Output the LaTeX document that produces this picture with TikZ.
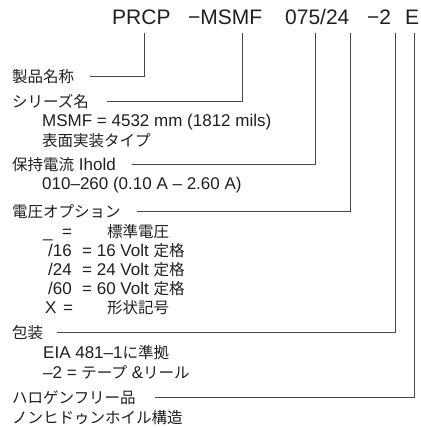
\documentclass[tikz,border=0pt]{standalone}
\usepackage{fontspec}
\setmainfont{Liberation Sans}
\newfontfamily\jpfont{Noto Sans CJK JP}
\newcommand\jtxt[1]{{\jpfont\fontsize{15.5}{18}\selectfont #1}}
\begin{document}
\begin{tikzpicture}[x=1pt,y=-1pt,
  toptext/.style={anchor=base west,inner sep=0pt,text=black!88,font=\fontsize{21}{24}\selectfont},
  lbl/.style={anchor=base west,inner sep=0pt,text=black!88,font=\fontsize{17}{20}\selectfont},
  conn/.style={draw=black!72,line width=1pt}]
\path[use as bounding box] (0,0) rectangle (420,428);
% top code
\node[toptext] (tp1) at (112,25) {PRCP};
\node[toptext] (tp2) at (188,25) {−MSMF};
\node[toptext] (tp3) at (285,25) {075/24};
\node[toptext] (tp4) at (367,25) {−2};
\node[toptext] (tp5) at (405,25) {E};
% headers
\node[lbl] (h1) at (12,82) {\jtxt{製品名称}};
\node[lbl] (h2) at (12,107) {\jtxt{シリーズ名}};
\node[lbl] (h2a) at (42,126) {MSMF = 4532 mm (1812 mils)};
\node[lbl] (h2b) at (42,146) {\jtxt{表面実装タイプ}};
\node[lbl] (h3) at (12,170) {\jtxt{保持電流} Ihold};
\node[lbl] (h3a) at (42,189) {010–260 (0.10 A – 2.60 A)};
\node[lbl] (h4) at (12,217) {\jtxt{電圧オプション}};
\node[lbl] (v1a) at (43,237) {\_};
\node[lbl] (v1b) at (62,237) {=};
\node[lbl] (v1c) at (107,237) {\jtxt{標準電圧}};
\node[lbl] (v2a) at (48,256) {/16};
\node[lbl] (v2b) at (82,256) {= 16 Volt \jtxt{定格}};
\node[lbl] (v3a) at (48,275) {/24};
\node[lbl] (v3b) at (82,275) {= 24 Volt \jtxt{定格}};
\node[lbl] (v4a) at (48,294) {/60};
\node[lbl] (v4b) at (82,294) {= 60 Volt \jtxt{定格}};
\node[lbl] (v5a) at (45,313) {X};
\node[lbl] (v5b) at (63,313) {=};
\node[lbl] (v5c) at (107,313) {\jtxt{形状記号}};
\node[lbl] (h5) at (12,338) {\jtxt{包装}};
\node[lbl] (h5a) at (43,358) {EIA 481–1\jtxt{に準拠}};
\node[lbl] (h5b) at (43,378) {–2 = \jtxt{テープ} \&\jtxt{リール}};
\node[lbl] (h6) at (12,403) {\jtxt{ハロゲンフリー品}};
\node[lbl] (h6a) at (12,423) {\jtxt{ノンヒドゥンホイル構造}};
% connector ends
\coordinate (t1) at (144,33);
\coordinate (t2) at (242,33);
\coordinate (t3) at (315,33);
\coordinate (t4) at (350,33);
\coordinate (t5) at (395,33);
\coordinate (t6) at (414,33);
\coordinate (s1) at (90,76);
\coordinate (s2) at (107,101);
\coordinate (s3) at (132,164);
\coordinate (s4) at (137,211);
\coordinate (s5) at (57,332);
\coordinate (s6) at (155,397);
\draw[conn] (s1) -| (t1);
\draw[conn] (s2) -| (t2);
\draw[conn] (s3) -| (t3);
\draw[conn] (s4) -| (t4);
\draw[conn] (s5) -| (t5);
\draw[conn] (s6) -| (t6);
\end{tikzpicture}
\end{document}
